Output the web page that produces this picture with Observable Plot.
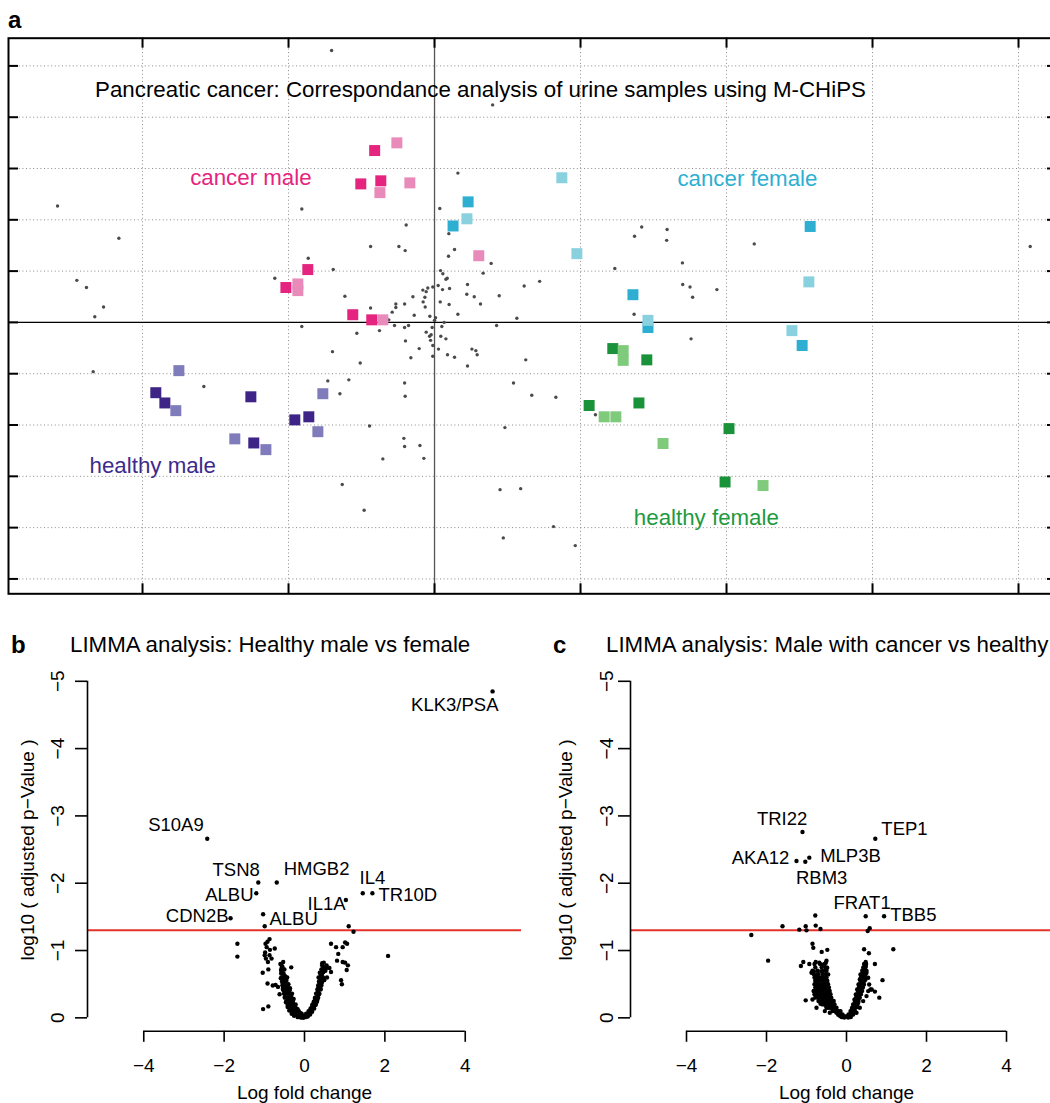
<!DOCTYPE html>
<html><head><meta charset="utf-8">
<script src="https://cdn.jsdelivr.net/npm/d3@7"></script>
<script src="https://cdn.jsdelivr.net/npm/@observablehq/plot@0.6"></script>
<style>
html,body{margin:0;padding:0;background:#fff;overflow:hidden;}
#root{position:relative;width:1050px;height:1103px;overflow:hidden;font-family:"Liberation Sans",Arial,Helvetica,sans-serif;color:#000;}
.pane{position:absolute;}
.pane svg{max-width:none !important;display:block;}
.t{position:absolute;white-space:nowrap;line-height:1;transform:translateY(-50%);}
.ttl{font-size:22.3px;}
.let{font-size:24px;font-weight:bold;}
</style></head><body><div id="root"></div>
<script>
// ---------------- Panel a: correspondence analysis ----------------
const otherSamples = [
[-0.705,5.30],[-2.582,2.27],[-2.162,1.64],[-0.909,2.21],[-0.194,1.90],[-0.438,1.48],[-0.244,1.48],[-0.201,1.40],[-0.865,1.25],[-0.694,1.03],
[-2.45,0.82],[-2.384,0.68],[-1.094,0.86],[-2.267,0.30],[-2.327,0.11],[-0.614,0.51],[-0.438,0.28],[-0.265,0.36],[-0.265,0.29],[-0.205,0.36],
[-0.148,0.50],[-0.139,0.14],[-0.29,0.20],[-0.08,0.63],[-0.046,0.67],[-0.012,0.69],[-0.066,0.49],[-0.078,0.40],[-0.064,0.30],[-0.032,0.12],
[0.025,0.72],[0.041,1.01],[0.055,0.64],[0.039,0.40],[0.087,0.86],[0.103,0.66],[0.10,0.35],[0.036,2.22],[0.098,1.73],[0.096,1.29],
[0.137,1.42],[0.388,1.15],[0.057,0.95],[0.333,0.96],[0.078,0.84],[0.226,0.74],[-0.057,0.60],[0.614,0.71],[0.221,0.55],[0.272,0.50],
[0.443,0.52],[0.315,0.36],[0.007,0.09],[0.16,0.16],[0.564,0.08],[-0.313,0.05],[-0.377,-0.16],[-0.274,-0.06],[-0.205,-0.10],[-0.178,-0.06],
[-0.016,-0.10],[0,0.04],[0.05,-0.08],[0.066,0],[0.425,-0.06],[-0.057,-0.19],[-0.023,-0.24],[-0.034,-0.27],[-0.027,-0.35],[0.043,-0.27],
[0.078,-0.32],[-0.199,-0.36],[-0.012,-0.45],[-0.105,-0.51],[0.027,-0.52],[-0.162,-0.69],[-0.012,-0.66],[0.089,-0.63],[0.137,-0.68],[0.256,-0.52],
[0.283,-0.55],[0.292,-0.63],[0.226,-0.85],[0.625,-0.73],[0.398,4.24],[0.16,2.91],[0.72,0.80],[1.235,1.05],[1.37,1.68],[1.419,1.86],
[1.593,1.81],[1.59,1.60],[1.698,1.16],[1.70,0.74],[1.75,0.69],[1.768,0.49],[1.934,0.64],[2.19,1.53],[4.08,1.48],[1.367,0.16],
[1.757,-0.32],[0.541,-1.18],[0.666,-1.42],[0.831,-1.46],[0.482,-2.05],[1.102,-1.80],[0.449,-3.26],[0.59,-3.24],[0.815,-3.98],[0.471,-4.20],
[0.964,-4.35],[-0.909,-0.08],[-0.532,-0.21],[-0.699,-0.57],[-0.509,-0.79],[-2.338,-0.96],[-1.58,-1.25],[-0.731,-1.14],[-0.587,-1.12],[-0.648,-1.39],
[-0.205,-1.18],[-0.201,-1.44],[-0.445,-2.02],[-0.21,-2.26],[-0.205,-2.42],[-0.10,-2.40],[-0.354,-2.66],[-0.073,-2.65],[-0.632,-3.16],[-0.482,-3.66]
];
const cancerMaleDark   = [[-0.41,3.35],[-0.505,2.70],[-0.368,2.76],[-0.868,1.03],[-1.018,0.68],[-0.56,0.15],[-0.43,0.05]];
const cancerMaleLight  = [[-0.258,3.50],[-0.169,2.72],[-0.374,2.53],[-0.936,0.75],[-0.936,0.62],[-0.354,0.05],[0.303,1.30]];
const cancerFemaleDark = [[0.23,2.35],[0.127,1.88],[2.573,1.87],[1.359,0.54],[1.462,-0.10],[2.518,-0.45]];
const cancerFemaleLight= [[0.872,2.82],[0.222,2.02],[0.975,1.34],[2.564,0.79],[1.462,0.04],[2.448,-0.16]];
const healthyMaleDark  = [[-1.909,-1.37],[-1.847,-1.57],[-1.258,-1.45],[-1.238,-2.35],[-0.957,-1.90],[-0.861,-1.84]];
const healthyMaleLight = [[-1.751,-0.94],[-1.772,-1.72],[-1.368,-2.27],[-1.155,-2.48],[-0.765,-1.39],[-0.799,-2.13]];
const healthyFemaleDark  = [[1.221,-0.51],[1.454,-0.73],[1.059,-1.62],[1.40,-1.57],[2.017,-2.07],[1.99,-3.11]];
const healthyFemaleLight = [[1.292,-0.55],[1.292,-0.74],[1.162,-1.84],[1.242,-1.84],[1.565,-2.36],[2.25,-3.18]];
const groupNames = ["cancer male","cancer female","healthy male","healthy female"];
const groupLabelX = [-1.258, 2.143, -1.930, 1.862];
const groupLabelY = [2.826, 2.80, -2.805, -3.80];
const groupColors = ["#E4247E","#2EAFD2","#3D2A8C","#1E9A3E"];
const titleA = "Pancreatic cancer: Correspondance analysis of urine samples using M-CHiPS";
const titleAPos = [0.315, 4.53];
const xTicksA = [-2,-1,0,1,2,3,4];
const yTicksA = [-5,-4,-3,-2,-1,0,1,2,3,4,5];

// ---------------- Panel b: LIMMA healthy male vs female ----------------
const genesB  = ["KLK3/PSA","S10A9","TSN8","HMGB2","ALBU","IL4","TR10D","IL1A","CDN2B","ALBU"];
const genesBX = [4.68,-2.42,-1.15,-0.69,-1.20,1.45,1.69,1.03,-1.84,-0.99];
const genesBY = [-4.85,-2.66,-2.01,-2.01,-1.85,-1.85,-1.85,-1.75,-1.48,-1.36];
const labelBX = [3.74,-3.20,-1.70,0.30,-1.87,1.69,2.57,0.55,-2.67,-0.27];
const labelBY = [-4.65,-2.86,-2.19,-2.21,-1.83,-2.07,-1.83,-1.69,-1.51,-1.46];
const otherGenesB = [
[-1.03,-1.54],[-0.87,-1.17],[-0.92,-1.13],[-0.97,-1.10],[-0.94,-1.05],[-0.86,-1.01],[-0.98,-0.97],[-0.99,-0.93],[-0.87,-0.93],[-0.82,-0.88],
[-0.96,-0.88],[-0.74,-1.03],[-0.91,-0.83],[-1.04,-0.67],[-0.90,-0.72],[-0.92,-0.51],[-0.79,-0.48],[-0.72,-0.49],[-1.03,-0.13],[-0.90,-0.17],
[-0.62,-0.35],[-0.56,-0.75],[-0.53,-0.83],[-0.33,-0.75],[-0.56,-0.66],[-0.59,-0.59],[-0.51,-0.55],[-0.66,-0.46],[-0.54,-0.43],[-1.67,-1.10],
[-1.67,-0.91],[1.10,-1.36],[1.22,-1.28],[2.08,-0.92],[1.01,-1.12],[1.06,-1.10],[0.66,-1.10],[0.785,-1.05],[0.95,-1.05],[0.84,-0.95],
[0.81,-0.85],[1.01,-0.82],[0.95,-0.83],[1.05,-0.71],[1.08,-0.78],[0.91,-0.56],[0.93,-0.50],[0.44,-0.81],[0.47,-0.69],[0.54,-0.74],
[0.62,-0.74],[0.66,-0.68],[0.56,-0.60],[0.49,-0.56],
[-0.54,-0.51],[-0.52,-0.41],[-0.49,-0.31],[-0.46,-0.23],[-0.42,-0.16],[-0.38,-0.11],[-0.32,-0.06],[-0.26,-0.03],[-0.17,-0.01],[-0.09,-0.005],
[-0.03,-0.002],[-0.50,-0.58],[-0.47,-0.48],[-0.44,-0.38],[-0.41,-0.29],[-0.37,-0.21],[-0.33,-0.15],[-0.28,-0.09],[-0.22,-0.05],[-0.15,-0.02],
[-0.45,-0.55],[-0.42,-0.45],[-0.39,-0.36],[-0.35,-0.27],[-0.31,-0.19],[-0.26,-0.12],[-0.21,-0.07],[-0.14,-0.04],[-0.08,-0.01],[-0.40,-0.50],
[-0.37,-0.41],[-0.33,-0.33],[-0.29,-0.24],[-0.24,-0.16],[-0.19,-0.10],[-0.12,-0.05],[-0.06,-0.02],[-0.36,-0.44],[-0.31,-0.36],[-0.27,-0.28],
[-0.22,-0.20],[-0.17,-0.13],[-0.10,-0.07],[-0.04,-0.03],[-0.58,-0.70],[-0.52,-0.66],[-0.48,-0.62],[-0.43,-0.60],[-0.55,-0.76],[-0.60,-0.80],
[-0.50,-0.72],[0.03,-0.01],[0.08,-0.02],[0.14,-0.05],[0.19,-0.09],[0.24,-0.14],[0.28,-0.20],[0.32,-0.27],[0.36,-0.35],[0.40,-0.43],
[0.43,-0.52],[0.45,-0.60],[0.47,-0.68],[0.49,-0.75],[0.06,-0.03],[0.11,-0.06],[0.16,-0.10],[0.21,-0.16],[0.25,-0.22],[0.29,-0.30],
[0.33,-0.38],[0.37,-0.46],[0.40,-0.55],[0.42,-0.63],[0.12,-0.09],[0.17,-0.14],[0.22,-0.21],[0.26,-0.28],[0.30,-0.36],[0.34,-0.44],
[0.37,-0.52],[0.35,-0.60],[0.38,-0.67],[0.44,-0.72],[0.52,-0.70],[0.55,-0.78],[0.48,-0.82],
[-0.10,-0.03],[-0.06,-0.03],[0.02,-0.03],[0.05,-0.03],[0.08,-0.03],
[-0.20,-0.06],[-0.15,-0.06],[-0.11,-0.06],[-0.07,-0.06],[0.04,-0.06],[0.09,-0.06],[0.13,-0.06],
[-0.30,-0.10],[-0.26,-0.10],[-0.22,-0.10],[-0.18,-0.10],[-0.14,-0.10],[0.10,-0.10],[0.14,-0.10],[0.18,-0.10],
[-0.36,-0.14],[-0.32,-0.14],[-0.28,-0.14],[-0.24,-0.14],[-0.20,-0.14],[0.15,-0.14],[0.19,-0.14],[0.23,-0.14],
[-0.42,-0.19],[-0.38,-0.19],[-0.34,-0.19],[-0.30,-0.19],[-0.26,-0.19],[0.19,-0.19],[0.23,-0.19],[0.27,-0.19],
[-0.46,-0.24],[-0.42,-0.24],[-0.38,-0.24],[-0.34,-0.24],[-0.30,-0.24],[0.23,-0.24],[0.27,-0.24],[0.31,-0.24],
[-0.49,-0.30],[-0.45,-0.30],[-0.41,-0.30],[-0.37,-0.30],[-0.33,-0.30],[0.26,-0.30],[0.30,-0.30],[0.34,-0.30],
[-0.51,-0.36],[-0.47,-0.36],[-0.43,-0.36],[-0.39,-0.36],[0.29,-0.36],[0.33,-0.36],[0.37,-0.36],
[-0.53,-0.42],[-0.49,-0.42],[-0.45,-0.42],[-0.41,-0.42],[0.32,-0.42],[0.36,-0.42],[0.40,-0.42],
[-0.55,-0.48],[-0.51,-0.48],[-0.47,-0.48],[-0.43,-0.48],[0.34,-0.48],[0.38,-0.48],[0.42,-0.48],
[-0.56,-0.54],[-0.52,-0.54],[-0.48,-0.54],[0.36,-0.54],[0.40,-0.54],[0.44,-0.54],
[-0.57,-0.60],[-0.53,-0.60],[-0.49,-0.60],[0.38,-0.60],[0.42,-0.60],[0.46,-0.60],
[-0.58,-0.66],[-0.54,-0.66],[0.40,-0.66],[0.44,-0.66],
[-0.58,-0.72],[-0.54,-0.72],[0.42,-0.72],[0.46,-0.72],
[-0.57,-0.78],[0.44,-0.78]
];

// ---------------- Panel c: LIMMA male with cancer vs healthy ----------------
const genesC  = ["TRI22","TEP1","AKA12","MLP3B","RBM3","FRAT1","TBB5"];
const genesCX = [-1.10,0.72,-1.25,-0.93,-1.03,0.48,0.94];
const genesCY = [-2.76,-2.66,-2.33,-2.38,-2.32,-1.51,-1.51];
const labelCX = [-1.61,1.45,-2.15,0.10,-0.62,0.39,1.67];
const labelCY = [-2.96,-2.81,-2.38,-2.40,-2.08,-1.71,-1.53];
const otherGenesC = [
[-2.38,-1.23],[-1.96,-0.85],[-1.60,-1.36],[-1.18,-1.31],[-1.02,-1.36],[-1.00,-1.30],[-0.77,-1.37],[-0.65,-1.32],[-0.78,-1.52],[0.58,-1.33],
[0.53,-1.29],[1.17,-1.02],[-0.85,-1.10],[-0.83,-1.04],[-0.62,-0.98],[-0.48,-1.01],[-1.08,-0.83],[-1.14,-0.77],[-0.93,-0.80],[-0.77,-0.83],
[-0.68,-0.82],[-0.50,-0.85],[-0.58,-0.79],[0.44,-1.02],[0.56,-0.96],[0.48,-0.83],[0.71,-0.80],[0.90,-0.56],[0.71,-0.39],[0.63,-0.42],
[0.82,-0.30],[-1.02,-0.26],
[-0.817,-0.694],[-0.75,-0.645],[-0.875,-0.669],[-0.667,-0.585],[-0.767,-0.546],[-0.708,-0.471],[-0.625,-0.422],[-0.817,-0.397],[-0.683,-0.348],[-0.583,-0.273],
[-0.85,-0.273],[-0.65,-0.209],[-0.50,-0.174],[-0.75,-0.149],[-0.542,-0.10],[-0.417,-0.075],[-0.458,-0.645],[-0.542,-0.546],[-0.50,-0.447],[-0.417,-0.348],
[-0.375,-0.249],[-0.333,-0.174],[-0.292,-0.10],[-0.208,-0.05],[-0.125,-0.011],[-0.058,-0.005],[-0.483,-0.744],[-0.517,-0.818],[-0.625,-0.694],[-0.60,-0.397],
[-0.517,-0.308],[-0.433,-0.224],[-0.375,-0.149],[-0.25,-0.075],[-0.167,-0.031],[-0.458,-0.397],[-0.40,-0.298],[-0.333,-0.209],[-0.267,-0.14],[-0.20,-0.09],
[0.042,-0.005],[0.108,-0.011],[0.167,-0.05],[0.208,-0.10],[0.25,-0.159],[0.292,-0.224],[0.317,-0.298],[0.35,-0.372],[0.375,-0.447],[0.40,-0.521],
[0.417,-0.595],[0.433,-0.67],[0.458,-0.734],[0.40,-0.704],[0.35,-0.645],[0.333,-0.57],[0.30,-0.496],[0.267,-0.422],[0.233,-0.348],[0.20,-0.273],
[0.167,-0.199],[0.133,-0.125],[0.10,-0.06],[0.483,-0.769],[0.50,-0.67],[0.542,-0.595],[0.567,-0.496],[0.60,-0.422],[0.542,-0.397],[0.50,-0.323],
[0.417,-0.249],[0.333,-0.149],[0.25,-0.075],[0.433,-0.496],[0.475,-0.57],
[-0.10,-0.02],[-0.05,-0.02],[0.00,-0.02],[0.05,-0.02],
[-0.20,-0.05],[-0.15,-0.05],[-0.10,-0.05],[0.05,-0.05],[0.10,-0.05],[0.13,-0.05],
[-0.35,-0.10],[-0.30,-0.10],[-0.25,-0.10],[-0.20,-0.10],[-0.15,-0.10],[0.10,-0.10],[0.15,-0.10],[0.18,-0.10],
[-0.50,-0.15],[-0.45,-0.15],[-0.40,-0.15],[-0.35,-0.15],[-0.30,-0.15],[-0.25,-0.15],[0.14,-0.15],[0.19,-0.15],[0.22,-0.15],
[-0.60,-0.20],[-0.55,-0.20],[-0.50,-0.20],[-0.45,-0.20],[-0.40,-0.20],[-0.35,-0.20],[-0.30,-0.20],[0.18,-0.20],[0.23,-0.20],[0.27,-0.20],
[-0.70,-0.25],[-0.62,-0.25],[-0.56,-0.25],[-0.50,-0.25],[-0.44,-0.25],[-0.38,-0.25],[-0.32,-0.25],[0.21,-0.25],[0.26,-0.25],[0.30,-0.25],
[-0.78,-0.30],[-0.70,-0.30],[-0.63,-0.30],[-0.57,-0.30],[-0.50,-0.30],[-0.44,-0.30],[-0.38,-0.30],[0.24,-0.30],[0.29,-0.30],[0.33,-0.30],
[-0.80,-0.35],[-0.72,-0.35],[-0.65,-0.35],[-0.58,-0.35],[-0.52,-0.35],[-0.46,-0.35],[-0.40,-0.35],[0.27,-0.35],[0.32,-0.35],[0.36,-0.35],
[-0.82,-0.40],[-0.75,-0.40],[-0.68,-0.40],[-0.60,-0.40],[-0.54,-0.40],[-0.48,-0.40],[-0.42,-0.40],[0.29,-0.40],[0.34,-0.40],[0.39,-0.40],
[-0.78,-0.45],[-0.70,-0.45],[-0.63,-0.45],[-0.56,-0.45],[-0.50,-0.45],[-0.44,-0.45],[0.31,-0.45],[0.36,-0.45],[0.41,-0.45],
[-0.80,-0.50],[-0.72,-0.50],[-0.65,-0.50],[-0.58,-0.50],[-0.52,-0.50],[-0.46,-0.50],[0.33,-0.50],[0.38,-0.50],[0.43,-0.50],
[-0.78,-0.55],[-0.70,-0.55],[-0.62,-0.55],[-0.55,-0.55],[-0.48,-0.55],[0.35,-0.55],[0.40,-0.55],[0.45,-0.55],
[-0.80,-0.60],[-0.72,-0.60],[-0.64,-0.60],[-0.56,-0.60],[-0.50,-0.60],[0.36,-0.60],[0.41,-0.60],[0.46,-0.60],
[-0.82,-0.65],[-0.70,-0.65],[-0.60,-0.65],[-0.52,-0.65],[0.38,-0.65],[0.43,-0.65],[0.48,-0.65],
[-0.85,-0.70],[-0.72,-0.70],[-0.58,-0.70],[-0.50,-0.70],[0.40,-0.70],[0.45,-0.70],[0.50,-0.70],
[-0.78,-0.75],[-0.62,-0.75],[-0.52,-0.75],[0.42,-0.75],[0.47,-0.75],
[-0.80,-0.80],[-0.66,-0.80],[-0.55,-0.80],[0.44,-0.80],[0.49,-0.80]
];

const xTicksV = [-4,-2,0,2,4];
const yTicksV = [0,-1,-2,-3,-4,-5];
const pThreshold = Math.log10(0.05);

const FONT = '"Liberation Sans", Arial, Helvetica, sans-serif';
const root = document.getElementById("root");
function place(node, left, top) {
  const w = document.createElement("div");
  w.className = "pane"; w.style.left = left + "px"; w.style.top = top + "px";
  node.style.maxWidth = "none";
  w.appendChild(node); root.appendChild(w);
}
function htmlText(txt, cls, left, cy) {
  const d = document.createElement("div");
  d.className = "t " + cls; d.textContent = txt;
  d.style.left = left + "px"; d.style.top = cy + "px";
  root.appendChild(d);
}

// ---- Panel a ----
const A = {width: 1070, height: 600, mt: 37.7, mb: 6.7, ml: 8, mr: 13};
const innerWA = A.width - A.ml - A.mr, innerHA = A.height - A.mt - A.mb;
const tickLen = 10;
const sq = (data, color) => Plot.dot(data, {x: d => d[0], y: d => d[1], symbol: "square", r: 6.2, fill: color, stroke: null});
const groups = groupNames.map((n, i) => ({name: n, x: groupLabelX[i], y: groupLabelY[i], color: groupColors[i]}));
const plotA = Plot.plot({
  width: A.width, height: A.height,
  marginTop: A.mt, marginBottom: A.mb, marginLeft: A.ml, marginRight: A.mr,
  x: {domain: [-2.918, 4.267], axis: null},
  y: {domain: [-5.29, 5.54], axis: null},
  style: {fontFamily: FONT, background: "transparent", overflow: "visible", maxWidth: "none"},
  marks: [
    Plot.gridX(xTicksA, {stroke: "#8c8c8c", strokeOpacity: 1, strokeWidth: 1, strokeDasharray: "1,2.6"}),
    Plot.gridY(yTicksA, {stroke: "#8c8c8c", strokeOpacity: 1, strokeWidth: 1, strokeDasharray: "1,2.6"}),
    Plot.ruleX([0], {stroke: "#555", strokeWidth: 1.3}),
    Plot.ruleY([0], {stroke: "#000", strokeWidth: 1.4}),
    Plot.tickX(xTicksA, {x: d => d, insetTop: innerHA - tickLen, stroke: "#000", strokeWidth: 2}),
    Plot.tickX(xTicksA, {x: d => d, insetBottom: innerHA - tickLen, stroke: "#000", strokeWidth: 2}),
    Plot.tickY(yTicksA, {y: d => d, insetRight: innerWA - tickLen, stroke: "#000", strokeWidth: 2}),
    Plot.tickY(yTicksA, {y: d => d, insetLeft: innerWA - tickLen, stroke: "#000", strokeWidth: 2}),
    Plot.dot(otherSamples, {x: d => d[0], y: d => d[1], r: 1.7, fill: "#4a4a4a", stroke: null}),
    sq(cancerMaleDark, "#E4247E"), sq(cancerMaleLight, "#E98BBA"),
    sq(cancerFemaleDark, "#2EAFD2"), sq(cancerFemaleLight, "#89D1DE"),
    sq(healthyMaleDark, "#3D2486"), sq(healthyMaleLight, "#807CBB"),
    sq(healthyFemaleDark, "#1A9239"), sq(healthyFemaleLight, "#7FCA7B"),
    Plot.text(groups, {x: "x", y: "y", text: "name", fill: "color", fontSize: 22.3, textAnchor: "middle", lineAnchor: "middle"}),
    Plot.text([titleA], {x: titleAPos[0], y: titleAPos[1], fontSize: 22.3, textAnchor: "middle", lineAnchor: "middle", fill: "#000"}),
    Plot.frame({stroke: "#000", strokeWidth: 2})
  ]
});
place(plotA, 0, 0);
htmlText("a", "let", 8, 20);

// ---- Volcano helper ----
function volcano(others, names, gx, gy, lx, ly, opt) {
  const labeled = names.map((n, i) => ({name: n, x: gx[i], y: gy[i], lx: lx[i], ly: ly[i]}));
  const all = others.map(d => ({x: d[0], y: d[1]})).concat(labeled);
  const xDom = [-5.4, 5.4], yDom = [0.2, -5.04];
  const fmt = d3.format("d");
  return Plot.plot({
    width: opt.width, height: 483,
    marginTop: 58.1, marginBottom: 72.2, marginLeft: opt.ml, marginRight: 4,
    x: {domain: xDom, axis: null},
    y: {domain: yDom, axis: null},
    style: {fontFamily: FONT, background: "transparent", overflow: "visible", maxWidth: "none"},
    marks: [
      Plot.ruleY([pThreshold], {stroke: "#E3322A", strokeWidth: 2}),
      Plot.ruleX([xDom[0]], {y1: yTicksV[0], y2: yTicksV[yTicksV.length - 1], stroke: "#000", strokeWidth: 1.6}),
      Plot.ruleY([yDom[0]], {x1: xTicksV[0], x2: xTicksV[xTicksV.length - 1], stroke: "#000", strokeWidth: 1.6}),
      Plot.axisX(xTicksV, {anchor: "bottom", tickSize: 11, tickPadding: 16, fontSize: 19, strokeWidth: 1.6, label: null, tickFormat: fmt}),
      Plot.axisY(yTicksV, {anchor: "left", tickSize: 12, strokeWidth: 1.6, label: null, tickFormat: () => ""}),
      Plot.text(yTicksV, {y: d => d, frameAnchor: "left", dx: opt.tickDx, rotate: -90, text: d => fmt(d), fontSize: 19, textAnchor: "middle", lineAnchor: "middle"}),
      Plot.text(["log10 ( adjusted p\u2212Value )"], {frameAnchor: "left", dx: opt.labDx, dy: -5, rotate: -90, fontSize: 19, textAnchor: "middle", lineAnchor: "middle"}),
      Plot.text(["Log fold change"], {frameAnchor: "bottom", dy: 62, fontSize: 19, textAnchor: "middle", lineAnchor: "middle"}),
      Plot.dot(all, {x: "x", y: "y", r: 2.2, fill: "#000", stroke: null}),
      Plot.text(labeled, {x: "lx", y: "ly", text: "name", fontSize: 18.5, textAnchor: "middle", lineAnchor: "middle", fill: "#000"})
    ]
  });
}
place(volcano(otherGenesB, genesB, genesBX, genesBY, labelBX, labelBY, {width: 525, ml: 87, tickDx: -29.5, labDx: -60}), 0, 620);
place(volcano(otherGenesC, genesC, genesCX, genesCY, labelCX, labelCY, {width: 536, ml: 100, tickDx: -24, labDx: -65}), 530, 620);
htmlText("b", "let", 11, 645);
htmlText("LIMMA analysis: Healthy male vs female", "ttl", 70, 645);
htmlText("c", "let", 553, 645);
htmlText("LIMMA analysis: Male with cancer vs healthy", "ttl", 606, 645);
</script></body></html>
